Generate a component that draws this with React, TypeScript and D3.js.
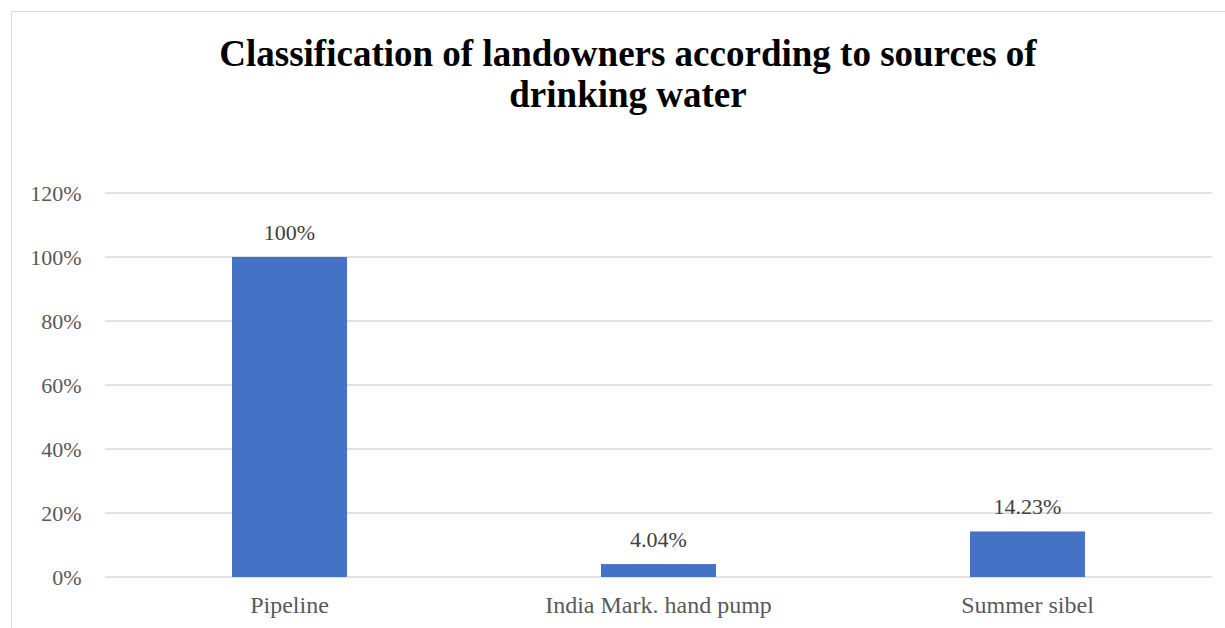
import React from "react";
import * as d3 from "d3";

const categories = ["Pipeline", "India Mark. hand pump", "Summer sibel"];
const values = [100, 4.04, 14.23];
const valueLabels = ["100%", "4.04%", "14.23%"];
const yTicks = [0, 20, 40, 60, 80, 100, 120];
const titleLines = ["Classification of landowners according to sources of", "drinking water"];

export default function App() {
  const W = 1225, H = 628;
  const left = 105, right = 1212, top = 193, bottom = 577;
  const x = d3.scaleBand<string>().domain(categories).range([left, right]).paddingInner(0.6884).paddingOuter(0.3442);
  const y = d3.scaleLinear().domain([0, 120]).range([bottom, top]);
  const font = "Liberation Serif, Times New Roman, serif";
  return (
    <svg width={W} height={H} style={{ position: "absolute", left: 0, top: 0, background: "#fff" }}>
      <rect x={11.5} y={11.5} width={W + 10} height={H + 10} fill="#fff" stroke="#d9d9d9" strokeWidth={1} />
      {titleLines.map((t, i) => (
        <text key={i} x={628} y={66 + i * 41} textAnchor="middle" fontFamily={font} fontWeight="bold" fontSize={37} fill="#000">{t}</text>
      ))}
      {yTicks.map((t) => (
        <g key={t}>
          <line x1={left} x2={right} y1={y(t)} y2={y(t)} stroke="#d9d9d9" strokeWidth={1.3} />
          <text x={81.5} y={y(t) + 8} textAnchor="end" fontFamily={font} fontSize={22} fill="#595959">{t}%</text>
        </g>
      ))}
      {categories.map((c, i) => (
        <g key={c}>
          <rect x={x(c)} y={y(values[i])} width={x.bandwidth()} height={y(0) - y(values[i])} fill="#4472c4" />
          <text x={(x(c) as number) + x.bandwidth() / 2} y={y(values[i]) - 17} textAnchor="middle" fontFamily={font} fontSize={22} fill="#404040">{valueLabels[i]}</text>
          <text x={(x(c) as number) + x.bandwidth() / 2} y={613} textAnchor="middle" fontFamily={font} fontSize={24} fill="#595959">{c}</text>
        </g>
      ))}
    </svg>
  );
}
